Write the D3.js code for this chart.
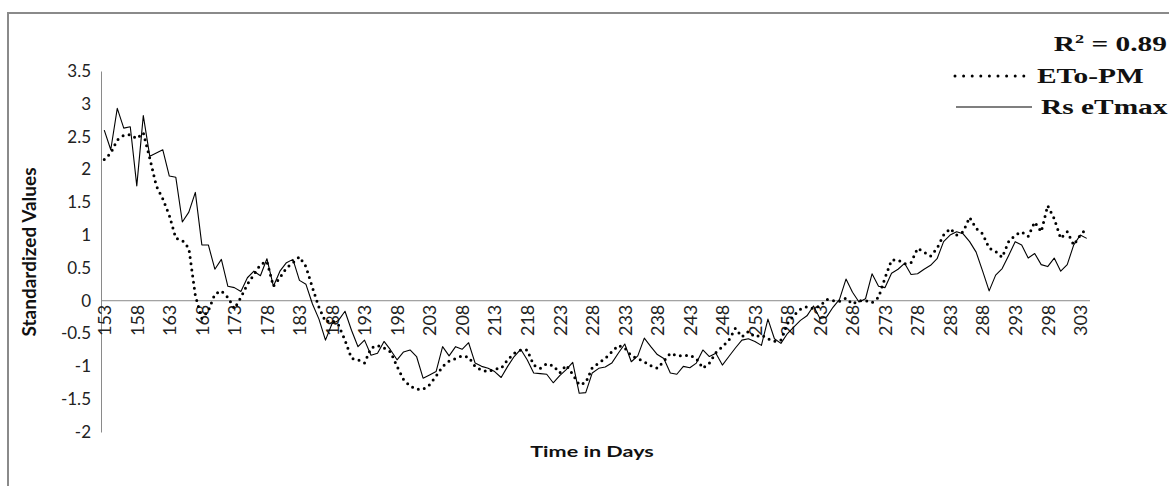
<!DOCTYPE html>
<html><head><meta charset="utf-8">
<script src="https://cdn.jsdelivr.net/npm/d3@7"></script>
<style>body{margin:0;background:#fff;} text{font-family:Lato,"Open Sans",sans-serif;}</style>
</head><body>
<script>
const days = [153,154,155,156,157,158,159,160,161,162,163,164,165,166,167,168,169,170,171,172,173,174,175,176,177,178,179,180,181,182,183,184,185,186,187,188,189,190,191,192,193,194,195,196,197,198,199,200,201,202,203,204,205,206,207,208,209,210,211,212,213,214,215,216,217,218,219,220,221,222,223,224,225,226,227,228,229,230,231,232,233,234,235,236,237,238,239,240,241,242,243,244,245,246,247,248,249,250,251,252,253,254,255,256,257,258,259,260,261,262,263,264,265,266,267,268,269,270,271,272,273,274,275,276,277,278,279,280,281,282,283,284,285,286,287,288,289,290,291,292,293,294,295,296,297,298,299,300,301,302,303,304];

const etoPM = [2.15,2.25,2.45,2.52,2.53,2.47,2.56,2.17,1.75,1.55,1.30,0.95,0.92,0.80,0.08,-0.27,-0.15,0.10,0.15,0.05,-0.12,0.05,0.25,0.40,0.55,0.60,0.22,0.35,0.50,0.58,0.67,0.52,0.20,-0.10,-0.32,-0.30,-0.37,-0.60,-0.88,-0.90,-0.95,-0.72,-0.68,-0.72,-0.78,-1.00,-1.20,-1.30,-1.35,-1.35,-1.28,-1.15,-1.00,-0.92,-0.88,-0.84,-0.86,-1.00,-1.06,-1.08,-1.04,-1.03,-0.90,-0.80,-0.75,-0.75,-0.98,-1.03,-0.96,-0.99,-1.10,-0.98,-1.12,-1.28,-1.25,-1.02,-0.95,-0.88,-0.78,-0.68,-0.72,-0.84,-0.88,-0.93,-0.99,-1.03,-0.92,-0.80,-0.84,-0.84,-0.83,-0.88,-1.03,-0.95,-0.79,-0.70,-0.60,-0.42,-0.55,-0.47,-0.55,-0.52,-0.58,-0.62,-0.60,-0.35,-0.22,-0.13,-0.09,-0.12,-0.08,0.02,0.00,-0.01,0.04,-0.05,0.00,0.00,-0.03,0.05,0.35,0.62,0.62,0.56,0.58,0.80,0.74,0.68,0.80,1.00,1.10,1.00,1.05,1.27,1.10,1.02,0.80,0.75,0.66,0.90,1.00,1.05,0.98,1.20,1.05,1.45,1.25,0.95,1.05,0.85,1.00,1.10];

const rsETmax = [2.60,2.30,2.93,2.63,2.65,1.75,2.82,2.20,2.25,2.30,1.90,1.88,1.20,1.35,1.65,0.85,0.85,0.48,0.63,0.22,0.20,0.14,0.35,0.45,0.38,0.64,0.22,0.45,0.58,0.63,0.31,0.25,-0.05,-0.28,-0.60,-0.35,-0.30,-0.16,-0.45,-0.70,-0.60,-0.83,-0.80,-0.62,-0.75,-0.90,-0.78,-0.75,-0.85,-1.18,-1.13,-1.08,-0.70,-0.84,-0.70,-0.74,-0.64,-0.95,-1.00,-1.03,-1.08,-1.17,-1.00,-0.85,-0.74,-0.90,-1.10,-1.11,-1.12,-1.25,-1.14,-1.05,-0.94,-1.41,-1.40,-1.10,-1.03,-1.01,-0.95,-0.80,-0.66,-0.93,-0.84,-0.57,-0.70,-0.82,-0.88,-1.10,-1.12,-1.00,-1.02,-0.95,-0.75,-0.85,-0.80,-0.98,-0.85,-0.72,-0.60,-0.58,-0.62,-0.68,-0.28,-0.58,-0.65,-0.50,-0.40,-0.30,-0.23,-0.08,-0.27,-0.25,-0.10,0.02,0.33,0.13,-0.02,0.03,0.41,0.22,0.20,0.42,0.48,0.57,0.40,0.41,0.48,0.54,0.64,0.90,1.00,1.05,1.02,0.90,0.74,0.45,0.15,0.39,0.49,0.69,0.90,0.85,0.65,0.72,0.55,0.52,0.65,0.45,0.55,0.85,1.00,0.95];

const xTickLabels = [153,158,163,168,173,178,183,188,193,198,203,208,213,218,223,228,233,238,243,248,253,258,263,268,273,278,283,288,293,298,303];
const yTicks = [3.5,3,2.5,2,1.5,1,0.5,0,-0.5,-1,-1.5,-2];
const seriesNames = ["ETo-PM","Rs eTmax"];

const W = 1169, H = 486;
const svg = d3.select("body").append("svg").attr("width", W).attr("height", H);
svg.append("rect").attr("width", W).attr("height", H).attr("fill", "#fff");
// outer chart border
svg.append("rect").attr("x", 8).attr("y", 13).attr("width", 1175).attr("height", 490)
  .attr("fill", "none").attr("stroke", "#8a8a8a").attr("stroke-width", 2);

const plot = {left: 101, right: 1090, top: 71, bottom: 432};
const x = d3.scalePoint().domain(days).range([plot.left, plot.right]).padding(0.5);
const y = d3.scaleLinear().domain([-2, 3.5]).range([plot.bottom, plot.top]);

// y axis
const yAxis = svg.append("g").attr("transform", `translate(${plot.left},0)`)
  .call(d3.axisLeft(y).tickValues(yTicks).tickSize(0).tickPadding(10).tickFormat(d => String(d)));
yAxis.select(".domain").attr("stroke", "#8a8a8a");
yAxis.selectAll("text").attr("font-size", 17).attr("fill", "#222").style("font-family", "Lato, sans-serif");

// zero line / category axis
svg.append("line").attr("x1", plot.left).attr("x2", plot.right).attr("y1", y(0)).attr("y2", y(0))
  .attr("stroke", "#8a8a8a").attr("stroke-width", 1);
const xAxis = svg.append("g").attr("transform", `translate(0,${y(0)})`)
  .call(d3.axisBottom(x).tickValues(xTickLabels).tickSize(0).tickPadding(0));
xAxis.select(".domain").remove();
xAxis.selectAll("text")
  .attr("font-size", 18).attr("fill", "#222").style("font-family", "Lato, sans-serif")
  .attr("text-anchor", "end").attr("dy", "0.35em")
  .attr("transform", "translate(0,4) rotate(-90)").attr("x", 0).attr("y", 0);

// lines
const line = d3.line().x((d, i) => x(days[i])).y(d => y(d));
svg.append("path").datum(rsETmax).attr("d", line).attr("fill", "none")
  .attr("stroke", "#000").attr("stroke-width", 1.1).attr("stroke-linejoin", "round");
svg.append("path").datum(etoPM).attr("d", line).attr("fill", "none")
  .attr("stroke", "#000").attr("stroke-width", 3).attr("stroke-linecap", "round")
  .attr("stroke-dasharray", "0,6.2");

// axis titles
svg.append("text").attr("transform", "translate(592,457) scale(1.35,1)").attr("text-anchor", "middle")
  .attr("font-size", 16).attr("font-weight", "bold").attr("fill", "#111").text("Time in Days");
svg.append("text").attr("transform", "translate(36,252) rotate(-90)").attr("text-anchor", "middle")
  .attr("font-size", 19).attr("font-weight", "bold").attr("fill", "#111").text("Standardized Values");

// legend
const lf = "'Liberation Serif','Times New Roman',serif";
const r2 = svg.append("text").attr("transform", "translate(1167,51) scale(1.4,1)").attr("text-anchor", "end")
  .attr("font-size", 21).attr("font-weight", "bold").style("font-family", lf).attr("fill", "#111");
r2.append("tspan").text("R");
r2.append("tspan").attr("font-size", 13).attr("dy", -8).text("2");
r2.append("tspan").attr("dy", 8).text(" = 0.89");

svg.append("line").attr("x1", 955).attr("x2", 1025).attr("y1", 76).attr("y2", 76)
  .attr("stroke", "#000").attr("stroke-width", 3).attr("stroke-linecap", "round").attr("stroke-dasharray", "0,8.6");
svg.append("text").attr("transform", "translate(1037,83) scale(1.4,1)").attr("font-size", 21).attr("font-weight", "bold")
  .style("font-family", lf).attr("fill", "#111").text(seriesNames[0]);
svg.append("line").attr("x1", 956).attr("x2", 1032).attr("y1", 107).attr("y2", 107)
  .attr("stroke", "#000").attr("stroke-width", 1.2);
svg.append("text").attr("transform", "translate(1041,114) scale(1.4,1)").attr("font-size", 21).attr("font-weight", "bold")
  .style("font-family", lf).attr("fill", "#111").text(seriesNames[1]);
</script>
</body></html>
